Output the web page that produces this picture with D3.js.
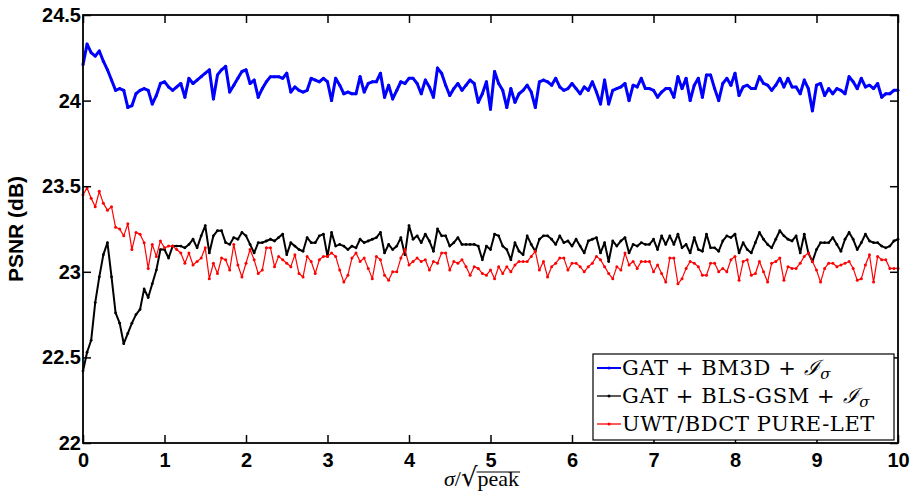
<!DOCTYPE html>
<html>
<head>
<meta charset="utf-8">
<title>PSNR vs sigma/sqrt(peak)</title>
<script src="https://cdn.jsdelivr.net/npm/d3@7/dist/d3.min.js"></script>
<style>
  body { margin: 0; background: #fff; }
  .tick text { font-family: "Liberation Sans", Arial, sans-serif; font-weight: bold; font-size: 20px; }
  .lg { font-family: "DejaVu Serif", "Liberation Serif", serif; font-size: 21px; letter-spacing: 0.6px; }
</style>
</head>
<body>
<div id="chart"></div>
<script>
// x positions: sigma/sqrt(peak) sampled every 0.05 from 0 to 10
var xTicks = [0, 1, 2, 3, 4, 5, 6, 7, 8, 9, 10];
var yTicks = [22, 22.5, 23, 23.5, 24, 24.5];
var yTickLabels = ["22", "22.5", "23", "23.5", "24", "24.5"];

// GAT + BM3D
var bm3d = [
  24.21, 24.33, 24.28, 24.26, 24.29, 24.23, 24.18, 24.12, 24.06, 24.07,
  24.06, 23.96, 23.97, 24.04, 24.06, 24.07, 24.06, 23.98, 24.03, 24.10,
  24.11, 24.08, 24.06, 24.08, 24.10, 24.02, 24.13, 24.10, 24.12, 24.14,
  24.16, 24.18, 24.01, 24.15, 24.18, 24.20, 24.05, 24.09, 24.13, 24.17,
  24.18, 24.10, 24.12, 24.02, 24.07, 24.11, 24.14, 24.14, 24.14, 24.13,
  24.16, 24.05, 24.08, 24.06, 24.05, 24.06, 24.13, 24.12, 24.11, 24.13,
  24.11, 24.00, 24.13, 24.09, 24.04, 24.05, 24.04, 24.04, 24.14, 24.05,
  24.10, 24.11, 24.11, 24.16, 24.02, 24.09, 24.01, 24.06, 24.11, 24.10,
  24.13, 24.13, 24.10, 24.04, 24.12, 24.08, 24.02, 24.19, 24.16, 24.09,
  24.03, 24.07, 24.10, 24.06, 24.09, 24.12, 24.10, 23.99, 24.04, 24.11,
  23.95, 24.17, 24.10, 24.06, 23.96, 24.07, 23.99, 24.04, 24.06, 24.09,
  24.05, 23.96, 24.11, 24.12, 24.11, 24.09, 24.13, 24.08, 24.06, 24.07,
  24.10, 24.07, 24.04, 24.08,
  24.06, 24.11, 24.05, 23.98, 24.12, 23.98, 24.06, 24.07, 24.08, 24.10,
  24.00, 24.09, 24.08, 24.13, 24.07, 24.07, 24.06, 24.02, 24.05, 24.07,
  24.07, 24.02, 24.14, 24.07, 24.13, 24.00, 24.09, 24.13, 24.02, 24.15,
  24.15, 24.07, 24.00, 24.10, 24.13, 24.09, 24.16, 24.03, 24.08, 24.09,
  24.07, 24.07, 24.14, 24.10, 24.09, 24.06, 24.09, 24.13, 24.08, 24.13,
  24.08, 24.08, 24.04, 24.12, 24.07, 23.94, 24.09, 24.10, 24.03, 24.07,
  24.04, 24.07, 24.06, 24.04, 24.14, 24.11, 24.07, 24.13, 24.08, 24.09,
  24.07, 24.10, 24.02, 24.04, 24.04, 24.06, 24.06
];

// GAT + BLS-GSM
var blsgsm = [
  22.42, 22.53, 22.60, 22.82, 22.97, 23.10, 23.17, 22.97, 22.76, 22.70,
  22.58, 22.64, 22.70, 22.75, 22.78, 22.90, 22.85, 22.93, 23.01, 23.13,
  23.13, 23.08, 23.15, 23.15, 23.15, 23.14, 23.16, 23.19, 23.14, 23.21,
  23.27, 23.11, 23.21, 23.24, 23.24, 23.17, 23.16, 23.20, 23.19, 23.23,
  23.21, 23.16, 23.11, 23.17, 23.17, 23.18, 23.19, 23.18, 23.20, 23.22,
  23.10, 23.17,
  23.15, 23.13, 23.12, 23.20, 23.17, 23.17, 23.21, 23.22, 23.09, 23.23,
  23.15, 23.16, 23.15, 23.13, 23.15, 23.14, 23.19, 23.17, 23.18, 23.19,
  23.20, 23.23, 23.11, 23.16, 23.13, 23.15, 23.20, 23.10, 23.27, 23.19,
  23.21, 23.17, 23.22, 23.18, 23.12, 23.25, 23.21, 23.21, 23.15, 23.17,
  23.20, 23.16, 23.16, 23.16, 23.16, 23.15, 23.07, 23.15, 23.13, 23.22,
  23.21, 23.15, 23.13, 23.07, 23.17, 23.12, 23.10, 23.21, 23.16, 23.12,
  23.19, 23.21, 23.21, 23.19, 23.16, 23.21, 23.17, 23.18, 23.15, 23.19,
  23.15, 23.11, 23.18, 23.19, 23.20,
  23.11, 23.17, 23.06, 23.18, 23.15, 23.18, 23.20, 23.11, 23.16, 23.15,
  23.17, 23.16, 23.16, 23.19, 23.13, 23.21, 23.16, 23.21, 23.16, 23.22,
  23.14, 23.16, 23.11, 23.20, 23.13, 23.12, 23.22, 23.14, 23.14, 23.12,
  23.18, 23.21, 23.20, 23.22, 23.11, 23.17, 23.13, 23.11, 23.17, 23.23,
  23.19, 23.16, 23.14, 23.19, 23.24, 23.21, 23.19, 23.18, 23.21, 23.11,
  23.22, 23.11, 23.06, 23.13, 23.17, 23.17, 23.17, 23.20, 23.16, 23.12,
  23.19, 23.23, 23.19, 23.13, 23.17, 23.22, 23.18, 23.17, 23.17, 23.15,
  23.14, 23.15, 23.18, 23.19
];

// UWT/BDCT PURE-LET
var purelet = [
  23.45, 23.49, 23.43, 23.38, 23.47, 23.40, 23.36, 23.38, 23.26, 23.25,
  23.21, 23.28, 23.13, 23.23, 23.22, 23.17, 23.02, 23.16, 23.09, 23.18,
  23.14, 23.15, 23.15, 23.13, 23.11, 23.05, 23.11, 23.04, 23.06, 23.08,
  23.14, 22.96, 23.05, 22.99, 23.08, 23.07, 23.01, 23.16, 23.04, 22.97,
  23.05, 23.13, 23.07, 22.99, 23.01, 23.14, 23.14, 23.03, 23.09, 23.07,
  23.05, 23.03,
  23.10, 22.99, 22.97, 23.09, 23.06, 22.99, 23.07, 23.09, 23.09, 23.11,
  23.09, 23.01, 22.94, 22.98, 23.08, 23.11, 23.06, 23.08, 23.02, 22.96,
  23.09, 23.07, 22.98, 22.95, 23.00, 23.00, 23.08, 23.13, 23.04, 23.06,
  23.08, 23.06, 23.07, 23.01, 23.06, 23.05, 23.11, 23.11, 23.01, 23.06,
  23.05, 23.07, 23.03, 22.98, 23.03, 23.02, 22.99, 22.98, 23.01, 22.96,
  23.03, 22.99, 23.03, 23.00, 23.04, 23.06, 23.06, 23.06, 23.09, 23.12,
  23.01, 23.06, 22.97, 23.03, 23.05, 23.08, 23.08, 23.01, 23.05, 23.05,
  23.03, 23.00, 23.03, 23.05, 23.09,
  23.07, 23.03, 22.99, 22.96, 23.03, 23.01, 23.11, 23.04, 23.06, 23.02,
  23.06, 23.06, 23.06, 23.00, 23.04, 22.99, 22.94, 23.08, 23.08, 22.93,
  22.96, 23.02, 23.06, 23.05, 23.03, 22.98, 22.98, 23.05, 23.05, 23.00,
  23.02, 23.00, 23.07, 23.09, 22.95, 23.06, 23.07, 22.98, 22.99, 23.06,
  23.00, 22.94, 23.05, 23.06, 23.08, 22.95, 23.03, 23.02, 23.02, 23.05,
  23.09, 23.11, 23.06, 23.01, 22.94, 23.02, 23.05, 23.05, 23.03, 23.04,
  23.05, 23.06, 23.02, 22.95, 22.96, 23.04, 23.10, 22.94, 23.09, 23.07,
  23.07, 23.02, 23.02, 23.02
];

var STEP = 0.05;

var series = [
  { name: "GAT + BM3D + ", values: bm3d, color: "#0000ff", width: 3, dot: 1.5 },
  { name: "GAT + BLS-GSM + ", values: blsgsm, color: "#000000", width: 2, dot: 1.4 },
  { name: "UWT/BDCT PURE-LET", values: purelet, color: "#ff0000", width: 1.2, dot: 1.5 }
];

var W = 918, H = 502;
// plot box ("top" is a read-only window property, so prefixed names)
var plotLeft = 83, plotRight = 898, plotTop = 15, plotBottom = 443;

var svg = d3.select("#chart").append("svg")
  .attr("width", W).attr("height", H);

var x = d3.scaleLinear().domain([0, 10]).range([plotLeft, plotRight]);
var y = d3.scaleLinear().domain([22, 24.5]).range([plotBottom, plotTop]);

// series lines
var line = d3.line()
  .x(function (d, i) { return x(i * STEP); })
  .y(function (d) { return y(d); });

series.forEach(function (s) {
  svg.append("path")
    .attr("d", line(s.values))
    .attr("fill", "none")
    .attr("stroke", s.color)
    .attr("stroke-width", s.width)
    .attr("stroke-linejoin", "round");
  svg.append("g").selectAll("circle")
    .data(s.values)
    .enter().append("circle")
    .attr("cx", function (d, i) { return x(i * STEP); })
    .attr("cy", function (d) { return y(d); })
    .attr("r", s.dot)
    .attr("fill", s.color);
});

// axes (ticks inside, mirrored)
var tickLen = 8;
function styleAxis(g) {
  g.select(".domain").remove();
  g.selectAll("line").attr("stroke", "#000").attr("stroke-width", 1.5);
}

svg.append("g")
  .attr("transform", "translate(0," + plotBottom + ")")
  .call(d3.axisBottom(x).tickValues(xTicks).tickSizeInner(-tickLen).tickSizeOuter(0).tickPadding(10))
  .call(styleAxis);

svg.append("g")
  .attr("transform", "translate(0," + plotTop + ")")
  .call(d3.axisTop(x).tickValues(xTicks).tickSizeInner(-tickLen).tickSizeOuter(0).tickFormat(""))
  .call(styleAxis);

svg.append("g")
  .attr("transform", "translate(" + plotLeft + ",0)")
  .call(d3.axisLeft(y).tickValues(yTicks).tickSizeInner(-tickLen).tickSizeOuter(0).tickPadding(2)
    .tickFormat(function (d, i) { return yTickLabels[i]; }))
  .call(styleAxis);

svg.append("g")
  .attr("transform", "translate(" + plotRight + ",0)")
  .call(d3.axisRight(y).tickValues(yTicks).tickSizeInner(-tickLen).tickSizeOuter(0).tickFormat(""))
  .call(styleAxis);

svg.selectAll(".tick text").attr("fill", "#000");

// frame
svg.append("rect")
  .attr("x", plotLeft).attr("y", plotTop)
  .attr("width", plotRight - plotLeft).attr("height", plotBottom - plotTop)
  .attr("fill", "none").attr("stroke", "#000").attr("stroke-width", 1.8);

// y label
svg.append("text")
  .attr("transform", "translate(23," + ((plotTop + plotBottom) / 2) + ") rotate(-90)")
  .attr("text-anchor", "middle")
  .attr("font-family", "Liberation Sans, Arial, sans-serif")
  .attr("font-weight", "bold")
  .attr("font-size", 21)
  .text("PSNR (dB)");

// x label: sigma / sqrt(peak)
var xl = svg.append("text")
  .attr("x", 444).attr("y", 486)
  .attr("font-family", "Liberation Serif, DejaVu Serif, serif")
  .attr("font-size", 22);
xl.append("tspan").attr("font-style", "italic").text("σ");
xl.append("tspan").text("/");
xl.append("tspan").attr("font-size", 26).attr("font-family", "DejaVu Serif, serif").text("√");
var peak = xl.append("tspan").text("peak");
var xlBox = xl.node().getBBox();
var peakLen = peak.node().getComputedTextLength();
svg.append("line")
  .attr("x1", xlBox.x + xlBox.width - peakLen - 1)
  .attr("x2", xlBox.x + xlBox.width + 1)
  .attr("y1", 472).attr("y2", 472)
  .attr("stroke", "#000").attr("stroke-width", 1.2);

// legend
var lg = svg.append("g").attr("transform", "translate(593,354)");
lg.append("rect")
  .attr("width", 301).attr("height", 86)
  .attr("fill", "#fff").attr("stroke", "#000").attr("stroke-width", 1.2);

series.forEach(function (s, i) {
  var yy = 14 + i * 28;
  lg.append("line")
    .attr("x1", 4).attr("x2", 28)
    .attr("y1", yy).attr("y2", yy)
    .attr("stroke", s.color).attr("stroke-width", i === 0 ? 2 : 1.3);
  lg.append("circle").attr("cx", 16).attr("cy", yy).attr("r", 1.5).attr("fill", s.color);
  var t = lg.append("text")
    .attr("class", "lg")
    .attr("x", 29).attr("y", yy + 7)
    .text(s.name);
  if (i < 2) {
    t.append("tspan").attr("font-style", "italic").text("ℐ");
    t.append("tspan").attr("font-style", "italic").attr("font-size", 15).attr("dy", 4).text("σ");
  }
});
</script>
</body>
</html>
